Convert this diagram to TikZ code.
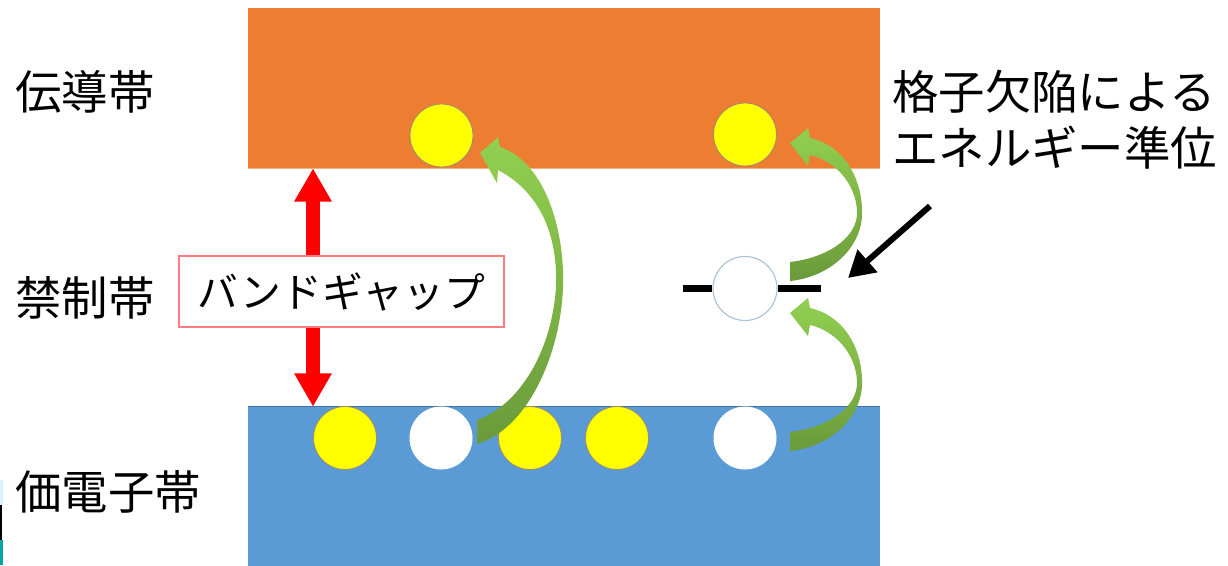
\documentclass[tikz,border=0pt]{standalone}
\usepackage{fontspec}
\setmainfont{Noto Sans CJK JP}
\usetikzlibrary{arrows.meta}
\definecolor{cbOrange}{HTML}{ED7D31}
\definecolor{cbOrangeEdge}{HTML}{F4B183}
\definecolor{vbBlue}{HTML}{5B9BD5}
\definecolor{vbBlueEdge}{HTML}{41719C}
\definecolor{elecYellow}{HTML}{FFFF00}
\definecolor{elecEdge}{HTML}{A08A70}
\definecolor{holeEdge}{HTML}{A9C1DA}
\definecolor{grLight}{HTML}{92D050}
\definecolor{grMid}{HTML}{86BF48}
\definecolor{grDark}{HTML}{6A9A3A}
\definecolor{gapEdge}{HTML}{FF7C80}
\begin{document}
\begin{tikzpicture}[x=0.025cm,y=-0.025cm,
  band/.style={rectangle, inner sep=0pt, minimum width=15.8cm},
  electron/.style={circle, inner sep=0pt, minimum size=1.575cm, fill=elecYellow, draw=elecEdge, line width=0.6pt},
  hole/.style={circle, inner sep=0pt, minimum size=1.575cm, fill=white},
  label/.style={inner sep=0pt, anchor=west, font=\fontsize{33}{40}\selectfont},
  level/.style={line width=0.18cm, black},
  redarr/.style={line width=0.33cm, red, {Triangle[length=0.83cm,width=0.88cm]}-{Triangle[length=0.83cm,width=0.88cm]}},
  blackarr/.style={line width=0.15cm, black, -{Triangle[length=0.65cm,width=0.72cm]}},
  greenarr/.style={top color=grLight, middle color=grMid, bottom color=grDark}
]
\useasboundingbox (0,0) rectangle (1228,565);
\fill[white] (0,0) rectangle (1228,565);
% tiny edge artifact at left
\fill[cyan!15] (0,480) rectangle (3,505);
\fill[black] (0,505) rectangle (2,540);
\fill[teal!70!cyan] (0,540) rectangle (3,565);

% bands
\node[band, fill=cbOrange, minimum height=4cm] (cb) at (564,88) {};
\draw[cbOrangeEdge, line width=1pt] (cb.south west) -- (cb.south east);
\node[band, fill=vbBlue, minimum height=3.975cm] (vb) at (564,486.5) {};
\draw[vbBlueEdge, line width=0.8pt] (vb.north west) -- (vb.north east);

% band labels
\node[label] (lcb) at (15,92) {伝導帯};
\node[label] (lgap) at (15,298) {禁制帯};
\node[label] (lvb) at (15,492) {価電子帯};
\node[label] (ldef1) at (892,92) {格子欠陥による};
\node[label] (ldef2) at (892,148) {エネルギー準位};

% band gap arrow and box
\coordinate (rax) at (313,0);
\draw[redarr] (cb.south -| rax) -- (vb.north -| rax);
\node[rectangle, draw=gapEdge, line width=1.4pt, fill=white, minimum width=8.125cm, minimum height=1.775cm, inner sep=0pt, font=\fontsize{29}{34}\selectfont] (gap) at (341.5,291.5) {バンドギャップ};

% electrons in conduction band
\node[electron] (ce1) at (441.5,135.5) {};
\node[electron] (ce2) at (745,134.5) {};

% valence band carriers
\node[electron] (ve1) at (345,438) {};
\node[hole] (vh1) at (441,438) {};
\node[electron] (ve2) at (530,438) {};
\node[electron] (ve3) at (617,438) {};
\node[hole] (vh2) at (745,438) {};

% defect level
\node[circle, inner sep=0pt, minimum size=1.6cm, fill=white, draw=holeEdge, line width=0.8pt] (dc) at (745,288.5) {};
\coordinate (dl) at (683,288.5);
\coordinate (dr) at (821,288.5);
\draw[level] (dl) -- (dc.west);
\draw[level] (dc.east) -- (dr);

% black pointer arrow
\coordinate (bs) at (930,206);
\coordinate (bt) at (848,278);
\draw[blackarr] (bs) -- (bt);

% big green curved arrow (valence -> conduction)
\shade[greenarr] (477,420)
  .. controls (520,405) and (552,350) .. (556,287)
  .. controls (558,235) and (540,192) .. (498,170)
  -- (497,183) -- (480,153) -- (498,137) -- (500,147)
  .. controls (545,162) and (565,230) .. (563,287)
  .. controls (561,350) and (530,428) .. (477,444) -- cycle;

% right green arrows (defect -> conduction, valence -> defect)
\foreach \dy in {0,170}{
\shade[greenarr, yshift=-\dy*0.025cm] (790,262)
  .. controls (825,258) and (855,240) .. (857,215)
  .. controls (858,190) and (840,162) .. (810,155)
  -- (808,166) -- (790,143) -- (808,128) -- (810,138)
  .. controls (845,146) and (863,180) .. (862,215)
  .. controls (861,248) and (830,277) .. (790,281) -- cycle;
}
\end{tikzpicture}
\end{document}
